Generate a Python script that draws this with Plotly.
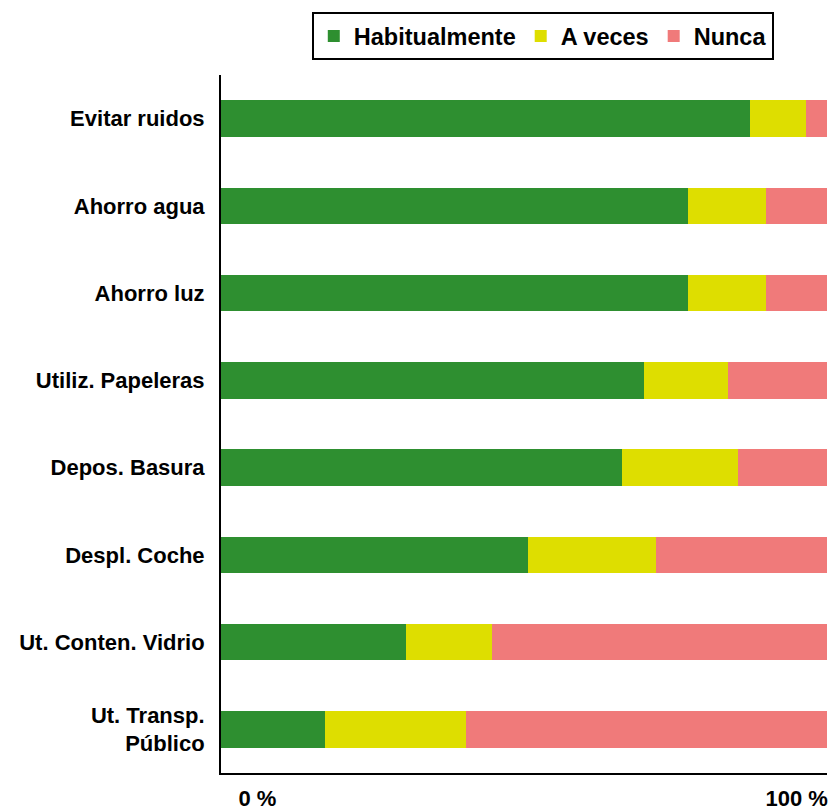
import plotly.graph_objects as go

categories = ["Evitar ruidos", "Ahorro agua", "Ahorro luz", "Utiliz. Papeleras",
              "Depos. Basura", "Despl. Coche", "Ut. Conten. Vidrio", "Ut. Transp.<br>Público"]
habitualmente = [87.3, 77.1, 77.1, 69.8, 66.2, 50.7, 30.5, 17.2]
a_veces = [9.2, 12.9, 12.9, 13.9, 19.1, 21.1, 14.2, 23.3]
nunca = [3.5, 10.0, 10.0, 16.3, 14.7, 28.2, 55.3, 59.5]

tick_pos = [6, 95]
tick_text = ["0 %", "100 %"]

font = "Liberation Sans, Arial, sans-serif"

fig = go.Figure()
fig.add_trace(go.Bar(y=categories, x=habitualmente, name="Habitualmente",
                     orientation="h", marker=dict(color="#2e8f30", line_width=0)))
fig.add_trace(go.Bar(y=categories, x=a_veces, name="A veces",
                     orientation="h", marker=dict(color="#dede00", line_width=0)))
fig.add_trace(go.Bar(y=categories, x=nunca, name="Nunca",
                     orientation="h", marker=dict(color="#f07a7a", line_width=0)))

fig.update_layout(
    barmode="stack",
    bargap=0.58,
    width=828, height=811,
    margin=dict(l=221, r=1, t=75, b=38, autoexpand=False),
    plot_bgcolor="white", paper_bgcolor="white",
    font=dict(family=font, size=22, color="black", weight="bold"),
    showlegend=True,
    legend=dict(orientation="h", x=0.531, xanchor="center", y=1.09, yanchor="top",
                bordercolor="black", borderwidth=2, font=dict(size=23.5, weight="bold"),
                traceorder="normal", itemwidth=30),
    xaxis=dict(range=[0, 100], tickvals=tick_pos, ticktext=tick_text, showgrid=False,
               showline=True, linecolor="black", linewidth=2, ticks="",
               ticklabelstandoff=5, zeroline=False, automargin=False),
    yaxis=dict(autorange="reversed", showgrid=False, showline=True, linecolor="black",
               linewidth=2, ticks="", ticklabelstandoff=10, automargin=False),
)

# drop the default 8px page margin so the figure sits at the window's corner
fig.write_html("out.html", config={"displayModeBar": False},
               post_script="document.body.style.margin='0';")
